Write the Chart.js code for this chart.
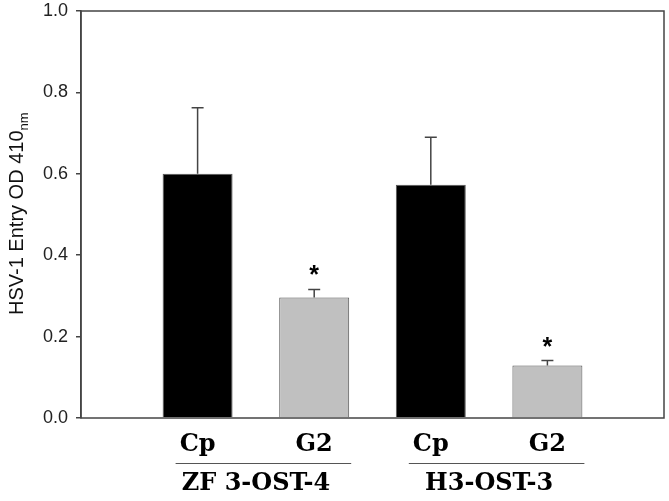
<!DOCTYPE html>
<html>
<head>
<meta charset="utf-8">
<script src="https://cdn.jsdelivr.net/npm/chart.js@4/dist/chart.umd.min.js"></script>
<style>
  html, body { margin: 0; padding: 0; background: #fff; }
  #wrap { width: 669px; height: 501px; position: relative; }
</style>
</head>
<body>
<div id="wrap"><canvas id="cntHSV_Chart"></canvas></div>
<script>
  // datos
  const categorias = ['Cp', 'G2', 'Cp', 'G2'];
  const grupos = ['ZF 3-OST-4', 'H3-OST-3'];
  const valores = [0.600, 0.296, 0.573, 0.129];
  const errores = [0.162, 0.020, 0.117, 0.012];
  const significativo = [false, true, false, true];
  const colores = ['#000000', '#c0c0c0', '#000000', '#c0c0c0'];
  const ticksY = [0, 0.2, 0.4, 0.6, 0.8, 1.0];

  const _data = valores.map(function(v, i){ return { x: i + 1, y: v }; });

  // marco, barras de error, asteriscos y etiquetas de abajo
  const pluginExtras = {
    id: 'extras',
    afterDatasetsDraw: function(chart){
      const ctx = chart.ctx, a = chart.chartArea;
      const sy = chart.scales.y;
      const meta = chart.getDatasetMeta(0);
      ctx.save();

      ctx.strokeStyle = '#444';
      ctx.lineWidth = 1.5;
      meta.data.forEach(function(bar, i){
        const yTop = sy.getPixelForValue(valores[i] + errores[i]);
        ctx.beginPath();
        ctx.moveTo(bar.x, bar.y);
        ctx.lineTo(bar.x, yTop);
        ctx.moveTo(bar.x - 6, yTop);
        ctx.lineTo(bar.x + 6, yTop);
        ctx.stroke();
        if (significativo[i]){
          ctx.fillStyle = '#000';
          ctx.font = 'bold 25px "Liberation Sans"';
          ctx.textAlign = 'center';
          ctx.textBaseline = 'middle';
          ctx.fillText('*', bar.x, yTop - 13);
        }
      });

      ctx.strokeStyle = '#444';
      ctx.lineWidth = 1.5;
      ctx.strokeRect(a.left, a.top, a.right - a.left, a.bottom - a.top);

      ctx.fillStyle = '#000';
      ctx.font = 'bold 24px "DejaVu Serif"';
      ctx.textAlign = 'center';
      ctx.textBaseline = 'middle';
      meta.data.forEach(function(bar, i){
        ctx.fillText(categorias[i], bar.x, 445);
      });
      grupos.forEach(function(g, k){
        const b1 = meta.data[k * 2], b2 = meta.data[k * 2 + 1];
        ctx.strokeStyle = '#555';
        ctx.lineWidth = 1;
        ctx.beginPath();
        ctx.moveTo(b1.x - 22, 463.5);
        ctx.lineTo(b2.x + 37, 463.5);
        ctx.stroke();
        ctx.fillText(g, (b1.x + b2.x) / 2, 484);
      });

      // titulo eje y con subindice
      ctx.translate(17, 315);
      ctx.rotate(-Math.PI / 2);
      ctx.textAlign = 'left';
      ctx.textBaseline = 'middle';
      ctx.fillStyle = '#111';
      ctx.font = '20px "Liberation Sans"';
      const t = 'HSV-1 Entry OD 410';
      ctx.fillText(t, 0, 0);
      const w = ctx.measureText(t).width;
      ctx.font = '13px "Liberation Sans"';
      ctx.fillText('nm', w, 7);
      ctx.restore();
    }
  };

  const config = {
    type: 'bar',
    data: {
      datasets: [{
        label: 'HSV-1',
        data: _data,
        backgroundColor: colores,
        borderColor: '#555',
        borderWidth: 1,
        barPercentage: 0.6,
        categoryPercentage: 1
      }]
    },
    options: {
      responsive: true,
      maintainAspectRatio: false,
      animation: false,
      layout: { padding: { top: 11, right: 5, bottom: 83, left: 0 } },
      plugins: { legend: { display: false }, tooltip: { enabled: false } },
      scales: {
        x: {
          type: 'linear', min: 0, max: 5, offset: false, display: false,
          afterBuildTicks: function(s){ s.ticks = [0, 1, 2, 3, 4, 5].map(function(v){ return { value: v }; }); }
        },
        y: {
          min: 0, max: 1,
          afterBuildTicks: function(s){ s.ticks = ticksY.map(function(v){ return { value: v }; }); },
          afterFit: function(s){ s.width = 81; s.paddingTop = 0; s.paddingBottom = 0; },
          border: { color: '#444', width: 1.5 },
          grid: { drawOnChartArea: false, drawTicks: true, tickLength: 5, color: '#444', lineWidth: 1.5 },
          ticks: {
            color: '#222',
            padding: 8,
            font: { family: '"Liberation Sans"', size: 18 },
            callback: function(v){ return v.toFixed(1); }
          }
        }
      }
    },
    plugins: [pluginExtras]
  };

  const ctx = document.getElementById('cntHSV_Chart').getContext('2d');
  window.cntHSV_Grafica = new Chart(ctx, config);
</script>
</body>
</html>
